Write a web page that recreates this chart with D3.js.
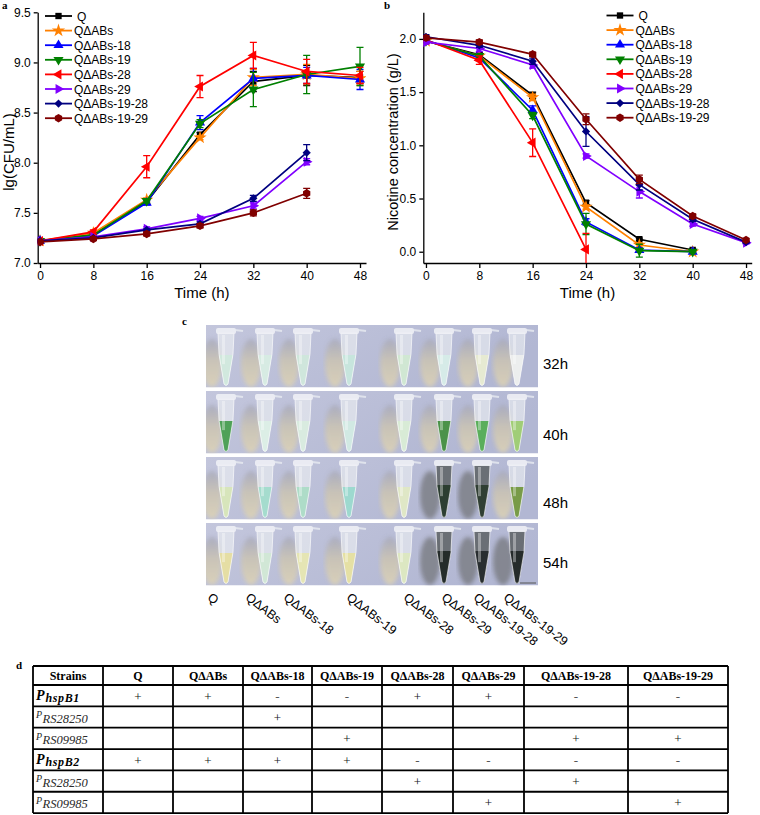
<!DOCTYPE html>
<html>
<head>
<meta charset="utf-8">
<script src="https://cdn.jsdelivr.net/npm/d3@7"></script>
<style>
  body { margin: 0; background: #fff; }
  svg { display: block; }
</style>
</head>
<body>
<svg id="fig" width="760" height="815"></svg>
<script>
// ---------- data ----------
const times = [0, 8, 16, 24, 32, 40, 48];
const strains = ["Q", "Q\u0394ABs", "Q\u0394ABs-18", "Q\u0394ABs-19", "Q\u0394ABs-28",
                 "Q\u0394ABs-29", "Q\u0394ABs-19-28", "Q\u0394ABs-19-29"];
const strainColors = ["#000000", "#ff8000", "#0000ff", "#008000", "#ff0000",
                      "#8000ff", "#000080", "#800000"];

// a: lg(CFU/mL)
const cfuMean = [
  [7.22, 7.28, 7.61, 8.28, 8.81, 8.87, 8.85],
  [7.22, 7.30, 7.63, 8.25, 8.85, 8.88, 8.84],
  [7.22, 7.27, 7.60, 8.40, 8.84, 8.87, 8.83],
  [7.22, 7.28, 7.62, 8.39, 8.73, 8.88, 8.96],
  [7.22, 7.31, 7.96, 8.76, 9.07, 8.91, 8.87],
  [7.22, 7.26, 7.34, 7.445, 7.57, 8.01, null],
  [7.22, 7.25, 7.33, 7.39, 7.645, 8.10, null],
  [7.21, 7.24, 7.29, 7.37, 7.50, 7.695, null]
];
const cfuErr = [
  [0.01, 0.01, 0.02, 0.02, 0.10, 0.10, 0.06],
  [0.01, 0.01, 0.02, 0.02, 0.08, 0.10, 0.07],
  [0.01, 0.01, 0.02, 0.07, 0.10, 0.08, 0.10],
  [0.01, 0.01, 0.02, 0.04, 0.17, 0.19, 0.19],
  [0.01, 0.02, 0.11, 0.11, 0.13, 0.12, 0.08],
  [0.01, 0.01, 0.02, 0.02, 0.03, 0.03, null],
  [0.01, 0.01, 0.01, 0.02, 0.03, 0.08, null],
  [0.01, 0.01, 0.02, 0.02, 0.03, 0.05, null]
];
const cfuTicks = [7.0, 7.5, 8.0, 8.5, 9.0, 9.5];

// b: nicotine (g/L)
const nicMean = [
  [1.98, 1.85, 1.47, 0.46, 0.117, 0.016, null],
  [1.98, 1.84, 1.45, 0.42, 0.063, 0.0, null],
  [1.99, 1.82, 1.33, 0.28, 0.016, 0.0, null],
  [1.98, 1.84, 1.28, 0.26, 0.01, 0.0, null],
  [1.99, 1.80, 1.025, 0.022, null, null, null],
  [1.97, 1.91, 1.755, 0.90, 0.565, 0.26, 0.085],
  [2.02, 1.94, 1.79, 1.13, 0.63, 0.305, 0.09],
  [2.01, 1.97, 1.855, 1.245, 0.68, 0.335, 0.11]
];
const nicErr = [
  [0.02, 0.02, 0.03, 0.02, 0.01, 0.01, null],
  [0.02, 0.02, 0.03, 0.02, 0.02, 0.01, null],
  [0.02, 0.02, 0.04, 0.03, 0.02, 0.01, null],
  [0.02, 0.02, 0.03, 0.10, 0.06, 0.01, null],
  [0.02, 0.04, 0.13, 0.15, null, null, null],
  [0.02, 0.03, 0.03, 0.02, 0.06, 0.02, 0.01],
  [0.02, 0.02, 0.03, 0.14, 0.05, 0.02, 0.01],
  [0.02, 0.02, 0.02, 0.05, 0.04, 0.02, 0.01]
];
const nicTicks = [0.0, 0.5, 1.0, 1.5, 2.0];

// c: photo, liquid colour of each tube per time point
const photoTimes = ["32h", "40h", "48h", "54h"];
const tubeLiquid = [
  ["#cfe9dd", "#d6ece2", "#cde7da", "#c4e5dc", "#cfe8d0", "#d6ece8", "#e8ebcf", "#eef0ee"],
  ["#3f9a48", "#dcefe6", "#d8ecdf", "#cfeae2", "#d8ecd4", "#3c8a38", "#4da84c", "#9acb6a"],
  ["#d6e6b6", "#9edccb", "#a8dcc4", "#96d8cc", "#e0e8c2", "#26392a", "#2a3a2c", "#6e9436"],
  ["#e6de9c", "#cfe8d4", "#e6e6ae", "#e6e09c", "#dde8be", "#1d2522", "#212729", "#1f2523"]
];

// d: promoter table
const tableHeader = ["Strains", "Q", "Q\u0394ABs", "Q\u0394ABs-18", "Q\u0394ABs-19", "Q\u0394ABs-28",
                     "Q\u0394ABs-29", "Q\u0394ABs-19-28", "Q\u0394ABs-19-29"];
const promoterNames = [["P", "hspB1"], ["P", "RS28250"], ["P", "RS09985"],
                       ["P", "hspB2"], ["P", "RS28250"], ["P", "RS09985"]];
const promoterBold = [true, false, false, true, false, false];
const promoterCells = [
  ["+", "+", "-", "-", "+", "+", "-", "-"],
  ["", "", "+", "", "", "", "", ""],
  ["", "", "", "+", "", "", "+", "+"],
  ["+", "+", "+", "+", "-", "-", "-", "-"],
  ["", "", "", "", "+", "", "+", ""],
  ["", "", "", "", "", "+", "", "+"]
];

// ---------- layout ----------
const SANS = "Arial, 'Liberation Sans', sans-serif";
const SERIF = "'Times New Roman', 'Liberation Serif', serif";
const svg = d3.select("#fig");
const defs = svg.append("defs");

const hexagon = {
  draw(ctx, size) {
    const r = Math.sqrt(size / 2.598);
    for (let i = 0; i < 6; i++) {
      const a = Math.PI / 3 * i + Math.PI / 6;
      if (i) ctx.lineTo(r * Math.cos(a), r * Math.sin(a));
      else ctx.moveTo(r * Math.cos(a), r * Math.sin(a));
    }
    ctx.closePath();
  }
};
const markers = [
  {type: d3.symbolSquare, size: 40, rot: 0},
  {type: d3.symbolStar, size: 55, rot: 0},
  {type: d3.symbolTriangle, size: 44, rot: 0},
  {type: d3.symbolTriangle, size: 44, rot: 180},
  {type: d3.symbolTriangle, size: 44, rot: -90},
  {type: d3.symbolTriangle, size: 44, rot: 90},
  {type: d3.symbolSquare, size: 34, rot: 45},
  {type: hexagon, size: 46, rot: 0}
];

function addMarker(g, i, cx, cy) {
  g.append("path")
    .attr("d", d3.symbol().type(markers[i].type).size(markers[i].size)())
    .attr("transform", `translate(${cx},${cy}) rotate(${markers[i].rot})`)
    .attr("fill", strainColors[i]);
}

function panelLabel(txt, x, y) {
  svg.append("text").attr("x", x).attr("y", y).text(txt)
    .attr("font-family", SERIF).attr("font-weight", "bold").attr("font-size", 11);
}

function drawPanel(o) {
  const g = svg.append("g");
  const x = d3.scaleLinear().domain(o.xDomain).range(o.xRange);
  const y = d3.scaleLinear().domain(o.yDomain).range(o.yRange);

  const xAxis = g.append("g")
    .attr("transform", `translate(0,${o.yRange[0]})`)
    .call(d3.axisBottom(x).tickValues(times).tickSize(5).tickSizeOuter(0).tickPadding(3));
  const yAxis = g.append("g")
    .attr("transform", `translate(${o.xRange[0]},0)`)
    .call(d3.axisLeft(y).tickValues(o.yTicks).tickFormat(d3.format(".1f"))
      .tickSize(4).tickSizeOuter(0).tickPadding(3));
  [xAxis, yAxis].forEach(a => {
    a.selectAll("path, line").attr("stroke", "#000").attr("stroke-width", 1.3);
    a.selectAll("text").attr("font-family", SANS).attr("font-size", 12).attr("fill", "#000");
  });

  g.append("text").text("Time (h)")
    .attr("x", (o.xRange[0] + o.xRange[1]) / 2).attr("y", 298)
    .attr("text-anchor", "middle").attr("font-family", SANS).attr("font-size", 15);
  g.append("text").text(o.yTitle)
    .attr("transform", `translate(${o.yTitleX},${o.yTitleY}) rotate(-90)`)
    .attr("text-anchor", "middle").attr("font-family", SANS).attr("font-size", o.yTitleSize);

  const clipId = "clip" + o.id;
  defs.append("clipPath").attr("id", clipId).append("rect")
    .attr("x", o.xRange[0]).attr("y", o.yRange[1] - 4)
    .attr("width", o.xRange[1] - o.xRange[0]).attr("height", o.yRange[0] - o.yRange[1] + 4);
  const plot = g.append("g").attr("clip-path", `url(#${clipId})`);

  const line = d3.line().defined(d => d.v != null).x(d => x(d.t)).y(d => y(d.v));

  strains.forEach((s, i) => {
    const pts = times.map((t, j) => ({t, v: o.mean[i][j], e: o.err[i][j]}));
    const sg = plot.append("g");
    sg.append("path").attr("d", line(pts)).attr("fill", "none")
      .attr("stroke", strainColors[i]).attr("stroke-width", 1.7);
    pts.filter(d => d.v != null).forEach(d => {
      const cx = x(d.t);
      sg.append("path")
        .attr("d", `M${cx},${y(d.v - d.e)}V${y(d.v + d.e)}M${cx - 3.5},${y(d.v - d.e)}H${cx + 3.5}M${cx - 3.5},${y(d.v + d.e)}H${cx + 3.5}`)
        .attr("stroke", strainColors[i]).attr("stroke-width", 1.3).attr("fill", "none");
      addMarker(sg, i, cx, y(d.v));
    });
  });

  // legend
  const lg = g.append("g");
  strains.forEach((s, i) => {
    const ly = o.legY + i * 14.6;
    lg.append("line").attr("x1", o.legX).attr("x2", o.legX + 27).attr("y1", ly).attr("y2", ly)
      .attr("stroke", strainColors[i]).attr("stroke-width", 1.8);
    addMarker(lg, i, o.legX + 13.5, ly);
    lg.append("text").text(s).attr("x", o.legX + 28 + (i === 0 ? 4 : 1)).attr("y", ly + 4.5)
      .attr("font-family", SANS).attr("font-size", 12);
  });
}

// ---------- panel a ----------
panelLabel("a", 2, 9);
drawPanel({
  id: "a", xDomain: [-0.35, 48.9], xRange: [37.7, 366],
  yDomain: [7.0, 9.5], yRange: [263, 12.3], yTicks: cfuTicks,
  mean: cfuMean, err: cfuErr,
  yTitle: "lg(CFU/mL)", yTitleX: 14, yTitleY: 152, yTitleSize: 15,
  legX: 45, legY: 16
});

// ---------- panel b ----------
panelLabel("b", 384, 9);
drawPanel({
  id: "b", xDomain: [-0.4, 48.85], xRange: [423.3, 751.7],
  yDomain: [-0.106, 2.25], yRange: [263, 12.3], yTicks: nicTicks,
  mean: nicMean, err: nicErr,
  yTitle: "Nicotine concentration (g/L)", yTitleX: 398, yTitleY: 142, yTitleSize: 14.5,
  legX: 606.5, legY: 15.5
});

// ---------- panel c (photo of tubes) ----------
panelLabel("c", 182, 325);
const rowTop = [325, 391, 457, 523];
const rowH = 62.5;
const photoX0 = 206, photoX1 = 538;
const tubeX = [226, 265, 303, 349, 404, 444, 482, 517];
const labelBase = [369, 440, 508, 568];

const bgGrad = defs.append("linearGradient").attr("id", "bg").attr("x1", 0).attr("x2", 1).attr("y1", 0).attr("y2", 0.3);
bgGrad.append("stop").attr("offset", 0).attr("stop-color", "#c3c6dc");
bgGrad.append("stop").attr("offset", 1).attr("stop-color", "#b2b7d3");
const shGrad = defs.append("linearGradient").attr("id", "shadow").attr("x1", 0).attr("x2", 0).attr("y1", 0).attr("y2", 1);
shGrad.append("stop").attr("offset", 0).attr("stop-color", "#a7a9bb");
shGrad.append("stop").attr("offset", 0.45).attr("stop-color", "#cbc4b2");
shGrad.append("stop").attr("offset", 1).attr("stop-color", "#ded3b4");
defs.append("filter").attr("id", "soft").append("feGaussianBlur").attr("stdDeviation", 2.2);

function tubePath(cx, top, h) {
  const w = 8, cyl = h * 0.4;
  return `M${cx - w},${top} L${cx + w},${top} L${cx + w - 1},${top + cyl} ` +
         `L${cx + 2},${top + h - 2} Q${cx},${top + h + 1} ${cx - 2},${top + h - 2} ` +
         `L${cx - w + 1},${top + cyl} Z`;
}

const photo = svg.append("g");
photoTimes.forEach((lab, r) => {
  const ry = rowTop[r];
  const rg = photo.append("g");
  defs.append("clipPath").attr("id", "row" + r).append("rect")
    .attr("x", photoX0).attr("y", ry).attr("width", photoX1 - photoX0).attr("height", rowH);
  rg.attr("clip-path", `url(#row${r})`);
  rg.append("rect").attr("x", photoX0).attr("y", ry).attr("width", photoX1 - photoX0)
    .attr("height", rowH).attr("fill", "url(#bg)");

  tubeLiquid[r].forEach((col, k) => {
    const cx = tubeX[k];
    const top = ry + 8, h = 53;
    const dark = d3.hsl(col).l < 0.25;
    rg.append("ellipse").attr("cx", cx - 14).attr("cy", ry + 38).attr("rx", 10).attr("ry", 24)
      .attr("fill", dark ? "#7d7f86" : "url(#shadow)").attr("opacity", 0.85).attr("filter", "url(#soft)");
    const id = `tube${r}_${k}`;
    defs.append("clipPath").attr("id", id).append("path").attr("d", tubePath(cx, top, h));
    rg.append("path").attr("d", tubePath(cx, top, h))
      .attr("fill", dark ? "#5d6264" : "#eef1f3").attr("fill-opacity", dark ? 0.85 : 0.6);
    const level = dark ? top + 20 : top + 22;
    rg.append("rect").attr("x", cx - 9).attr("y", level).attr("width", 18).attr("height", h + 2)
      .attr("fill", col).attr("fill-opacity", 0.9).attr("clip-path", `url(#${id})`);
    rg.append("path").attr("d", tubePath(cx, top, h)).attr("fill", "none")
      .attr("stroke", "#ffffff").attr("stroke-opacity", 0.65).attr("stroke-width", 1);
    rg.append("rect").attr("x", cx - 4).attr("y", top + 2).attr("width", 3).attr("height", h * 0.55)
      .attr("fill", "#ffffff").attr("opacity", 0.35);
    rg.append("rect").attr("x", cx - 10).attr("y", ry + 3).attr("width", 20).attr("height", 6)
      .attr("rx", 2).attr("fill", "#eef0f5").attr("opacity", 0.9);
    rg.append("path").attr("d", `M${cx + 9},${ry + 5} l8,1`).attr("stroke", "#e9ecf2")
      .attr("stroke-width", 2).attr("opacity", 0.8);
  });

  photo.append("text").text(lab).attr("x", 543).attr("y", labelBase[r])
    .attr("font-family", SANS).attr("font-size", 15);
});
// scale bar
photo.append("line").attr("x1", 520).attr("x2", 536).attr("y1", 583).attr("y2", 583)
  .attr("stroke", "#555").attr("stroke-width", 1);

// tube labels
const tubeLabelX = [213, 251, 289, 352, 409, 447, 479, 509];
strains.forEach((s, k) => {
  photo.append("text").text(s)
    .attr("transform", `translate(${tubeLabelX[k]},${591}) rotate(38)`)
    .attr("dy", "0.8em").attr("font-family", SANS).attr("font-size", 12.5);
});

// ---------- panel d (table) ----------
panelLabel("d", 16, 669);
const colEdges = [33, 103, 173, 243, 312, 382, 453, 524, 628, 728];
const rowEdges = [666, 685];
for (let i = 1; i <= promoterNames.length; i++) rowEdges.push(685 + i * 21.35);

const tg = svg.append("g");
tableHeader.forEach((h, c) => {
  tg.append("text").text(h)
    .attr("x", (colEdges[c] + colEdges[c + 1]) / 2).attr("y", 680)
    .attr("text-anchor", "middle").attr("font-family", SERIF)
    .attr("font-weight", "bold").attr("font-size", 12);
});
promoterNames.forEach((nm, r) => {
  const y0 = rowEdges[r + 1], y1 = rowEdges[r + 2];
  const t = tg.append("text").attr("x", 36).attr("y", y0 + 15)
    .attr("font-family", SERIF).attr("font-style", "italic");
  if (promoterBold[r]) {
    t.attr("font-weight", "bold");
    t.append("tspan").text(nm[0]).attr("font-size", 14);
    t.append("tspan").text(nm[1]).attr("font-size", 12).attr("dy", 1.5).attr("dx", 1)
      .attr("letter-spacing", 0.6);
  } else {
    t.attr("fill", "#2a2a2a");
    t.append("tspan").text(nm[0]).attr("font-size", 10).attr("dy", -3);
    t.append("tspan").text(nm[1]).attr("font-size", 12.5).attr("dy", 4.5).attr("dx", 0.5);
  }
  promoterCells[r].forEach((v, c) => {
    if (!v) return;
    tg.append("text").text(v)
      .attr("x", (colEdges[c + 1] + colEdges[c + 2]) / 2).attr("y", (y0 + y1) / 2 + 5)
      .attr("text-anchor", "middle").attr("font-family", SERIF).attr("font-size", 13)
      .attr("fill", v === "+" ? "#111111" : "#555555");
  });
});
// grid
rowEdges.forEach(ry => {
  tg.append("line").attr("x1", colEdges[0]).attr("x2", colEdges[colEdges.length - 1])
    .attr("y1", ry).attr("y2", ry).attr("stroke", "#000").attr("stroke-width", 1.8);
});
colEdges.forEach(cx => {
  tg.append("line").attr("x1", cx).attr("x2", cx)
    .attr("y1", rowEdges[0]).attr("y2", rowEdges[rowEdges.length - 1])
    .attr("stroke", "#000").attr("stroke-width", 1.8);
});
</script>
</body>
</html>
